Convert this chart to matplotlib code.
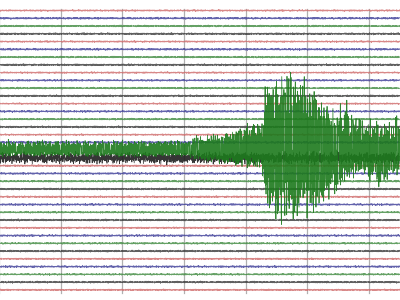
import numpy as np
import matplotlib
matplotlib.use("Agg")
import matplotlib.pyplot as plt

# ---- data ----
N_TRACES = 37
TRACE_COLORS = ["#cf6a6a", "#3c3c98", "#3f8a3f", "#383838"]   # red, blue, green, black cycle
GRID_MINUTES = [0, 10, 20, 30, 40, 50, 60]
X_MAX = 65.0

# hand-typed wiggle values (background noise shape)
NOISE_A = [2, -3, 1, 4, -2, -5, 3, 0, -1, 5, -4, 2, -2, 6, -3, 1, -6, 3, 4, -1,
           -3, 2, -4, 5, 0, -2, 3, -5, 1, 4, -3, 2, -1, -4, 6, -2, 3, -3, 0, 5,
           -5, 2, 1, -4, 3, -1, -2, 4, -6, 2, 5, -3, 0, -2, 3, 1, -5, 4, -1, 2, -3]
NOISE_B = [-1, 3, -4, 2, 0, -3, 5, -2, 1, -5, 4, -1, 2, -3, 3, -4, 1, 0, -2, 5,
           -3, 2, -1, 4, -5, 1, 3, -2, 0, -4, 2, 5, -3, 1, -2, 4, -1, -3, 3, 0,
           -5, 2, 4, -1, -2, 1, -4]
# hand-typed relative heights of the event strokes
SPIKE_H = [1.0, 0.8, 0.9, 0.7, 1.0, 0.8, 0.65, 0.95, 0.85, 0.7, 1.0, 0.75,
           0.9, 0.65, 0.95, 0.8, 0.7, 1.0, 0.8, 0.85, 0.65, 0.95, 0.8, 0.9,
           0.7, 1.0, 0.75, 0.85, 0.65, 0.95, 0.85, 0.7, 1.0, 0.8, 0.75, 0.9, 0.65,
           0.95, 0.8, 0.9, 0.7, 1.0, 0.8]

# base noise amplitude of each trace (in units of trace spacing)
TRACE_AMP = [0.13, 0.15, 0.14, 0.15, 0.13, 0.15, 0.14, 0.15, 0.13, 0.14,
             0.14, 0.15, 0.13, 0.15, 0.14, 0.15, 0.13, 0.18, 1.0, 0.9,
             0.15, 0.15, 0.15, 0.15, 0.14, 0.15, 0.14, 0.15, 0.13, 0.15,
             0.14, 0.15, 0.13, 0.15, 0.14, 0.15, 0.13]

EVENT_TRACE = 18
# event envelope on trace 18 (minutes, up / down extent in trace spacings)
EVENT_T = [0.0, 30.0, 32.5, 37.5, 41.5, 42.6, 43.5, 47.2, 49.9, 51.2,
           52.9, 54.5, 56.1, 57.8, 59.4, 61.8, 64.3, 65.0]
EVENT_UP = [1.4, 1.5, 2.2, 3.0, 4.6, 4.4, 11.6, 11.8, 11.0, 9.6,
            7.6, 6.1, 6.8, 5.8, 4.7, 4.0, 4.7, 4.6]
EVENT_DOWN = [0.9, 1.0, 1.5, 2.2, 2.8, 2.8, 10.4, 10.8, 9.5, 9.1,
              8.9, 7.6, 5.0, 4.2, 4.2, 5.3, 4.0, 3.9]

# ---- drawing ----
fig = plt.figure(figsize=(4, 3), dpi=100)
ax = fig.add_axes([0, 0, 1, 1])
ax.set_axis_off()

px_per_min = 6.16
x0 = 0.9 / px_per_min
ax.set_xlim(x0, x0 + 400 / px_per_min)
sp = 7.76
ax.set_ylim((300 - 10.5) / sp, -10.5 / sp)

for m in GRID_MINUTES:
    ax.plot([m, m], [-0.25, 36.4], color="#b0b0b0", lw=0.9, zorder=1)

na, nb = np.array(NOISE_A), np.array(NOISE_B)
sh = np.array(SPIKE_H)

for i in range(N_TRACES):
    ns = 1300 if i == EVENT_TRACE else 1400
    t = np.linspace(0, X_MAX, ns)
    k = np.arange(ns)
    a = na[(k + 7 * i) % len(na)]
    b = nb[(3 * k + 11 * i) % len(nb)]
    v = (a + 0.5 * b)
    v = v / np.abs(v).max()
    if i == EVENT_TRACE:
        up = np.interp(t, EVENT_T, EVENT_UP)
        dn = np.interp(t, EVENT_T, EVENT_DOWN)
        h = sh[(k // 3) % len(sh)]
        s = np.sign(v) * np.abs(v) ** 0.4 * h
        y = np.where(s > 0, s * up, s * dn)
        ax.plot(t, i - y, color="#1d7a1d", lw=0.55, alpha=0.9, zorder=5)
    elif i == 19:
        y = v * TRACE_AMP[i]
        ax.plot(t, i - y, color="#202020", lw=0.5, alpha=0.9, zorder=4)
    else:
        y = v * TRACE_AMP[i]
        ax.plot(t, i - y, color=TRACE_COLORS[i % 4], lw=0.6,
                alpha=0.8, zorder=3)

fig.savefig("out.png", dpi=100)
